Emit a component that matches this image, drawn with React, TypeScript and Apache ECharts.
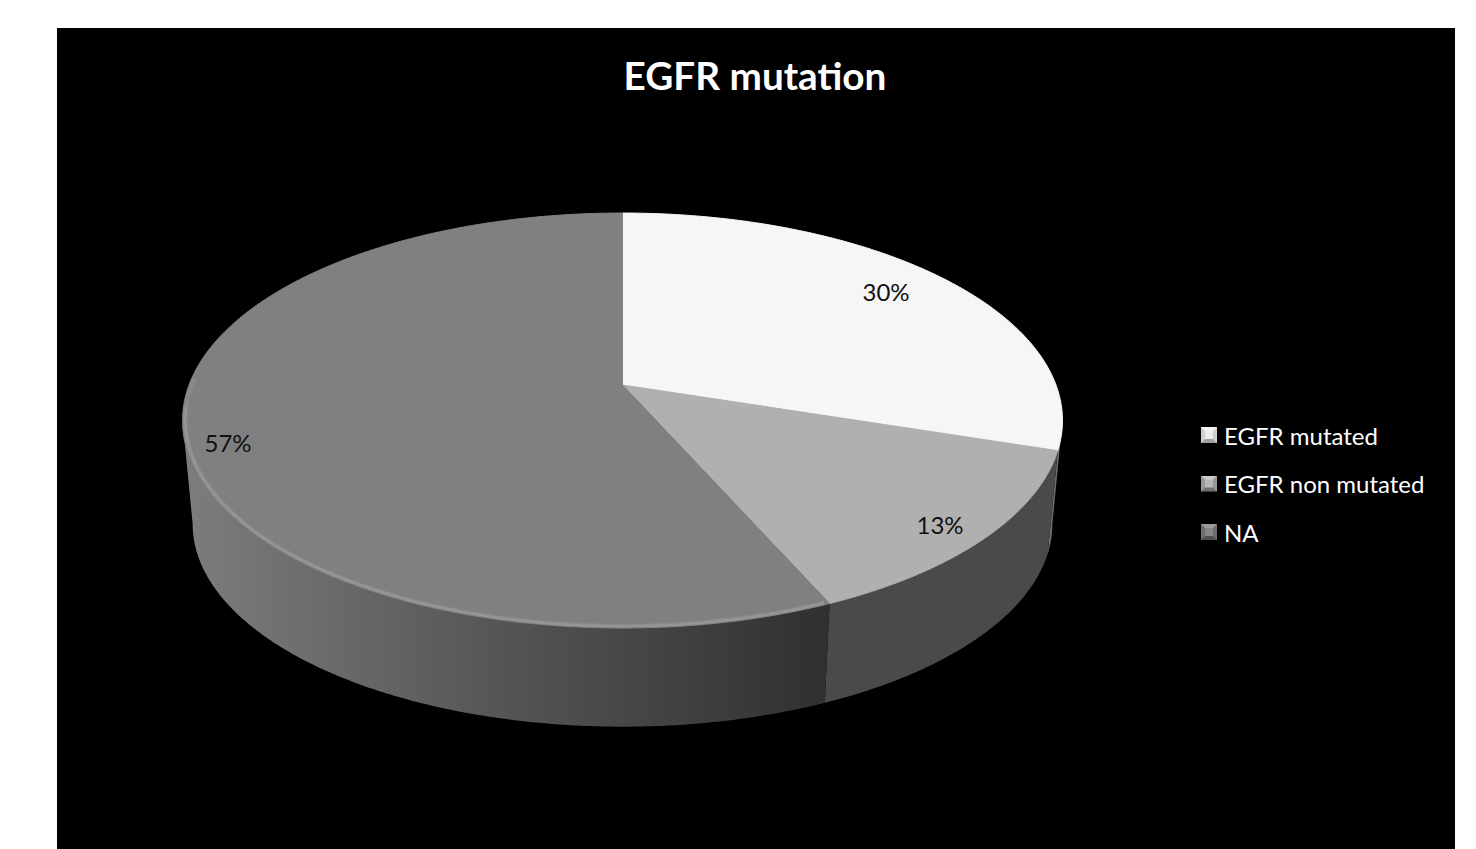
import React, { useEffect, useRef } from "react";
import * as echarts from "echarts";

const categories = ["EGFR mutated", "EGFR non mutated", "NA"];
const shares = [30, 13.4, 56.6];
const topColors = ["#f6f6f6", "#b0b0b0", "#808080"];
const chartTitle = "EGFR mutation";

const labelSpots = [[886, 291], [940, 524], [228, 442]];
const FONT = "Lato, Carlito, sans-serif";

const CX = 622.5, CY = 385, K = 0.171, A = 433.5, B = 201.4;
const SCALE = 0.977, BOTTOM_CY = 524, TOP_CY = 420.5;
const FRONT_START = 99.8, FRONT_END = 260.2;

const rad = (d: number) => (d * Math.PI) / 180;
function topPt(deg: number, r = 1): number[] {
  const u = Math.sin(rad(deg)) * r, v = -Math.cos(rad(deg)) * r;
  const d = 1 - K * v;
  return [CX + (A * u) / d, CY + (B * v) / d];
}
function botPt(deg: number): number[] {
  const p = topPt(deg);
  return [CX + SCALE * (p[0] - CX), BOTTOM_CY + SCALE * (p[1] - TOP_CY)];
}
function arc(fn: (d: number) => number[], from: number, to: number): number[][] {
  const n = Math.max(2, Math.ceil(Math.abs(to - from) * 2));
  const pts: number[][] = [];
  for (let i = 0; i <= n; i++) pts.push(fn(from + ((to - from) * i) / n));
  return pts;
}

function legendIcon(base: string, light: string, dark: string, side: string) {
  const svg = `<svg xmlns="http://www.w3.org/2000/svg" width="16" height="16"><rect width="16" height="16" fill="${base}"/><polygon points="0,0 16,0 12,4 4,4" fill="${light}"/><polygon points="0,0 4,4 4,12 0,16" fill="${side}"/><polygon points="16,0 12,4 12,12 16,16" fill="${side}"/><polygon points="0,16 4,12 12,12 16,16" fill="${dark}"/></svg>`;
  return "image://data:image/svg+xml;charset=utf-8," + encodeURIComponent(svg);
}
const legendIcons = [
  legendIcon("#ececec", "#f4f4f4", "#a0a0a0", "#cfcfcf"),
  legendIcon("#b8b8b8", "#cccccc", "#707070", "#989898"),
  legendIcon("#868686", "#9c9c9c", "#505050", "#6e6e6e"),
];

export default function App() {
  const ref = useRef<HTMLDivElement>(null);
  useEffect(() => {
    document.body.style.margin = "0";
    const chart = echarts.init(ref.current!, undefined, { renderer: "svg" });
    const total = shares.reduce((a, b) => a + b, 0);
    let acc = 0;
    const spans = shares.map((v) => {
      const s = [(acc / total) * 360, ((acc + v) / total) * 360];
      acc += v;
      return s;
    });
    const wallFill = (i: number) =>
      i === 0
        ? "#6e6e6e"
        : i === 1
        ? "#4a4a4a"
        : new echarts.graphic.LinearGradient(190, 0, 826, 0, [
            { offset: 0, color: "#7c7c7c" },
            { offset: 0.5, color: "#545454" },
            { offset: 1, color: "#303030" },
          ], true);

    const series = categories.map((name, i) => ({
      type: "custom",
      name,
      coordinateSystem: "none",
      silent: true,
      itemStyle: { color: topColors[i] },
      data: [shares[i]],
      z: 3,
      renderItem: () => {
        const [a0, a1] = spans[i];
        const children: any[] = [];
        const w0 = Math.max(a0, FRONT_START), w1 = Math.min(a1, FRONT_END);
        if (w1 > w0) {
          children.push({
            type: "polygon",
            z2: 1,
            shape: { points: [...arc(botPt, w0, w1), ...arc(topPt, w1, w0)] },
            style: { fill: wallFill(i) },
          });
        }
        children.push({
          type: "polygon",
          z2: 2,
          shape: { points: [[CX, CY], ...arc((d) => topPt(d), a0, a1)] },
          style: { fill: topColors[i], stroke: topColors[i], lineWidth: 1 },
        });
        if (i === 2) {
          children.push({
            type: "polyline",
            z2: 3,
            shape: { points: arc((d) => topPt(d, 0.994), a0 + 0.5, 272) },
            style: { fill: "none", stroke: "rgba(255,255,255,0.07)", lineWidth: 5 },
          });
          children.push({
            type: "polyline",
            z2: 3,
            shape: { points: arc((d) => topPt(d, 0.994), a0 + 0.5, 264) },
            style: { fill: "none", stroke: "rgba(255,255,255,0.1)", lineWidth: 2.5 },
          });
        }
        children.push({
          type: "text",
          z2: 4,
          x: labelSpots[i][0],
          y: labelSpots[i][1],
          style: {
            text: Math.round((shares[i] / total) * 100) + "%",
            fill: "#111111",
            font: `24px ${FONT}`,
            align: "center",
            verticalAlign: "middle",
          },
        });
        return { type: "group", children };
      },
    }));

    chart.setOption({
      animation: false,
      backgroundColor: "#ffffff",
      title: {
        text: chartTitle,
        left: 750,
        top: 50.5,
        textAlign: "center",
        textStyle: { color: "#ffffff", fontFamily: FONT, fontWeight: "bold", fontSize: 38.7 },
      },
      legend: {
        orient: "vertical",
        left: 1201,
        top: 423,
        padding: 0,
        itemWidth: 16,
        itemHeight: 16,
        itemGap: 24.5,
        itemSymbolKeepAspect: true,
        selectedMode: false,
        data: categories.map((name, i) => ({ name, icon: legendIcons[i] })),
        textStyle: { color: "#ffffff", fontFamily: FONT, fontSize: 24, padding: [0, 0, 0, 2] },
      },
      graphic: [
        {
          type: "rect",
          z: -1,
          silent: true,
          shape: { x: 57, y: 28, width: 1398, height: 821 },
          style: { fill: "#000000" },
        },
      ],
      series,
    });
    return () => chart.dispose();
  }, []);
  return <div ref={ref} style={{ width: 1476, height: 849 }} />;
}
